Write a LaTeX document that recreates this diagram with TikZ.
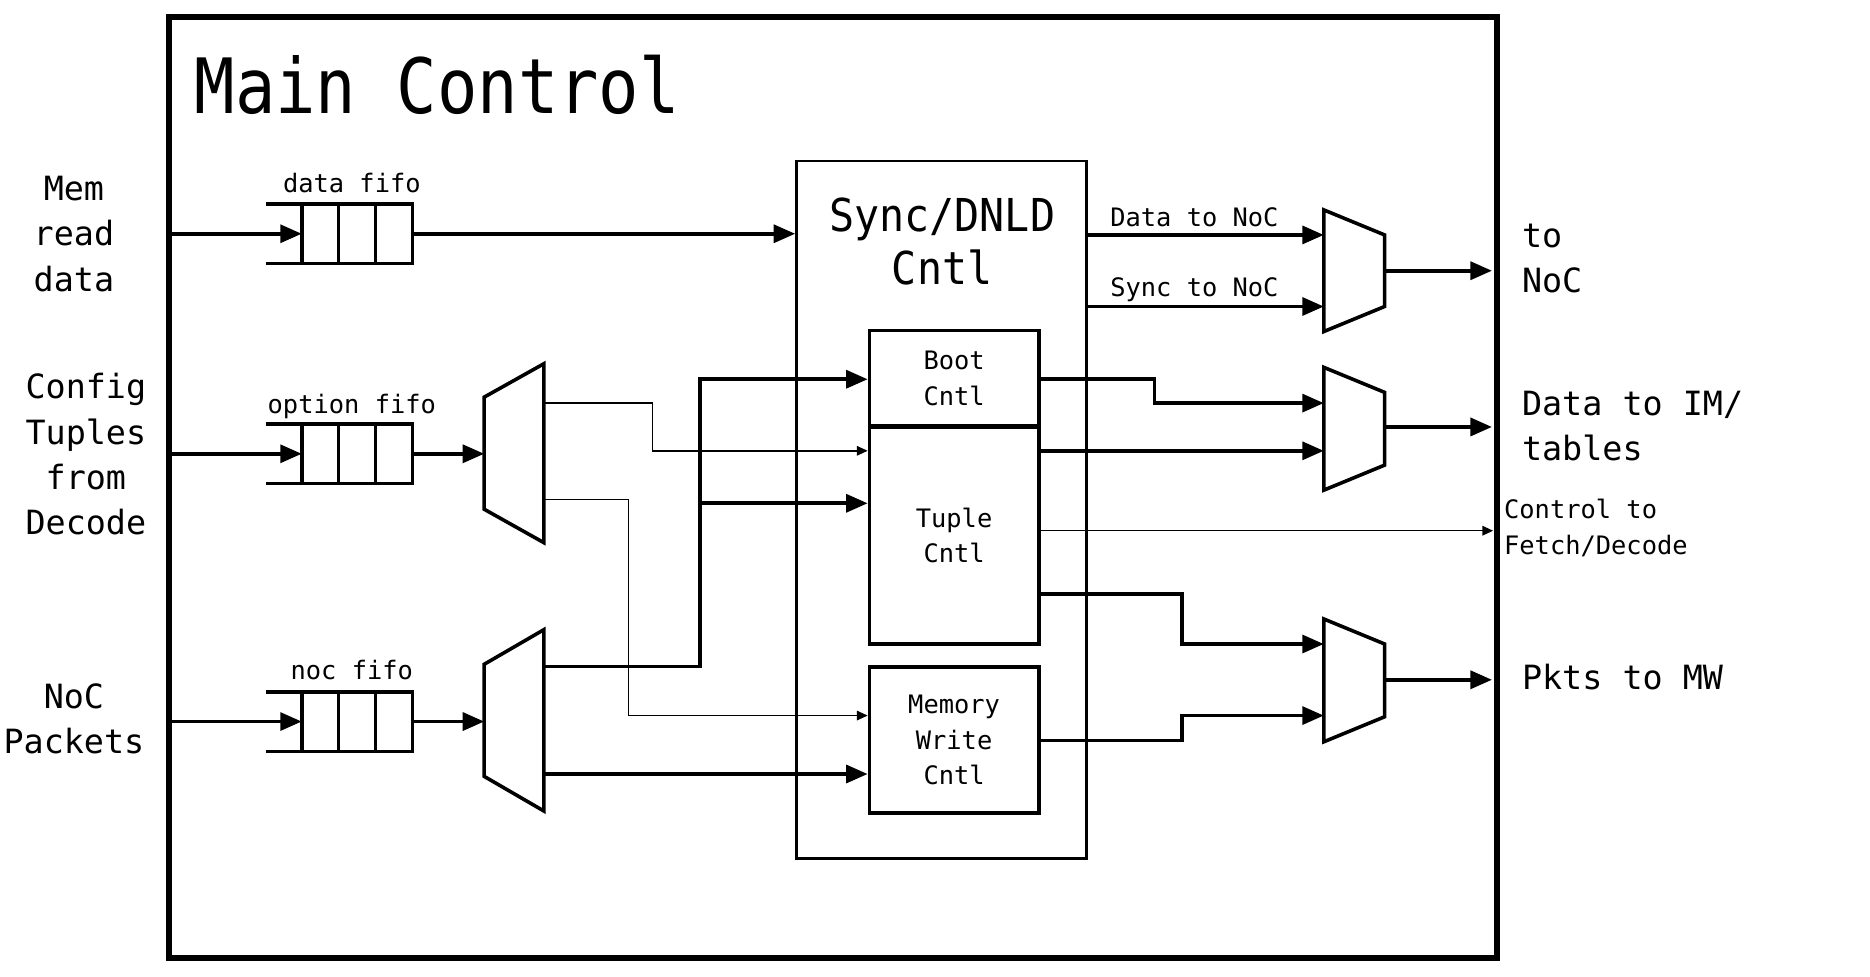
\documentclass[tikz,border=0pt]{standalone}
\usepackage{fontspec}
\newfontfamily\dm{DejaVu Sans Mono}
\newfontfamily\dmmain[FakeStretch=0.88]{DejaVu Sans Mono}
\newfontfamily\dmsync[FakeStretch=0.92]{DejaVu Sans Mono}
\usetikzlibrary{arrows.meta,calc}
\tikzset{
  thk/.style={line width=3pt},
  thn/.style={line width=1.2pt},
  arr/.style={-{Triangle[length=18pt,width=15pt]}},
  tarr/.style={-{Triangle[length=9pt,width=8pt]}},
  smalltxt/.style={font=\dm\fontsize{21.3}{30}\selectfont, inner sep=0pt},
  largetxt/.style={font=\dm\fontsize{28}{38}\selectfont, inner sep=0pt},
  blk/.style={draw, line width=3pt, minimum width=142pt, align=center, smalltxt},
  fifobox/.style={draw, line width=3pt, minimum width=93pt, minimum height=50pt, inner sep=0pt, outer sep=0pt},
  muxline/.style={line width=3pt, line join=miter},
}
\begin{document}
\begin{tikzpicture}[x=1pt,y=-1pt]
\useasboundingbox (0,0) rectangle (1568,819);

% outer box and title
\node[draw, line width=5pt, outer sep=0pt, inner sep=0pt, minimum width=1113pt, minimum height=789pt] (main) at (698.5,408.5) {};
\node[font=\dmmain\fontsize{64}{70}\selectfont, inner sep=0pt, anchor=base west] (title) at (163,95) {Main Control};

% left labels
\node[largetxt, align=center] (memlbl) at (62,196) {Mem\\read\\data};
\node[largetxt, align=center] (cfglbl) at (72,381) {Config\\Tuples\\from\\Decode};
\node[largetxt, align=center] (noclbl) at (62,603) {NoC\\Packets};

% fifos
\node[fifobox] (dfifo) at (299.5,196) {};
\node[fifobox] (ofifo) at (299.5,380.5) {};
\node[fifobox] (nfifo) at (299.5,605) {};
\foreach \f in {dfifo,ofifo,nfifo}{
  \draw[thk] (\f.north west) -- ++(-30,0);
  \draw[thk] (\f.south west) -- ++(-30,0);
  \draw[thk] ($(\f.north west)!1/3!(\f.north east)$) -- ($(\f.south west)!1/3!(\f.south east)$);
  \draw[thk] ($(\f.north west)!2/3!(\f.north east)$) -- ($(\f.south west)!2/3!(\f.south east)$);
}
\node[smalltxt, anchor=base] (dfifolbl) at (295,161.5) {data fifo};
\node[smalltxt, anchor=base] (ofifolbl) at (295,347) {option fifo};
\node[smalltxt, anchor=base] (nfifolbl) at (295,569.5) {noc fifo};

% left muxes
\draw[muxline] (406,333) -- (456,305) -- (456,455) -- (406,427) -- cycle;
\coordinate (m1in) at (406,380.5);
\coordinate (m1o1) at (456,338);
\coordinate (m1o2) at (456,419);
\draw[muxline] (406,557) -- (456,528) -- (456,680) -- (406,651) -- cycle;
\coordinate (m2in) at (406,605);
\coordinate (m2o1) at (456,559);
\coordinate (m2o2) at (456,649);

% Sync/DNLD block
\node[draw, line width=2.5pt, inner sep=0pt, minimum width=243pt, minimum height=585pt] (sync) at (789.5,427.5) {};
\node[font=\dmsync\fontsize{38}{44.5}\selectfont, inner sep=0pt, align=center] (synctitle) at (790,202.5) {Sync/DNLD\\Cntl};
\node[blk, minimum height=80pt] (boot) at (800,317) {Boot\\Cntl};
\node[blk, minimum height=182pt] (tuple) at (800,449) {Tuple\\Cntl};
\node[blk, minimum height=122pt] (memw) at (800,620.5) {Memory\\Write\\Cntl};

% right muxes
\draw[muxline] (1110,176) -- (1161,197) -- (1161,257) -- (1110,278) -- cycle;
\coordinate (m3i1) at (1110,197);
\coordinate (m3i2) at (1110,257);
\coordinate (m3o) at (1161,227);
\draw[muxline] (1110,308) -- (1161,329) -- (1161,390) -- (1110,411) -- cycle;
\coordinate (m4i1) at (1110,338);
\coordinate (m4i2) at (1110,378);
\coordinate (m4o) at (1161,358);
\draw[muxline] (1110,519) -- (1161,540) -- (1161,601) -- (1110,622) -- cycle;
\coordinate (m5i1) at (1110,540);
\coordinate (m5i2) at (1110,600);
\coordinate (m5o) at (1161,570);

% inputs
\draw[thk,arr] (main.west |- dfifo.west) -- (dfifo.west);
\draw[thk,arr] (main.west |- ofifo.west) -- (ofifo.west);
\draw[thk,arr] (main.west |- nfifo.west) -- (nfifo.west);
\draw[thk,arr] (dfifo.east) -- (sync.west |- dfifo.east);
\draw[thk,arr] (ofifo.east) -- (m1in);
\draw[thk,arr] (nfifo.east) -- (m2in);

% mux outputs into blocks
\draw[thn,tarr] (m1o1) -| (547,378) -- (tuple.west |- 0,378);
\draw[thn,tarr] (m1o2) -| (527,600) -- (memw.west |- 0,600);
\coordinate (j1) at (587,422);
\draw[thk,arr] (m2o1) -| (587,318) -- (boot.west |- 0,318);
\draw[thk,arr] (j1) -- (tuple.west |- j1);
\draw[thk,arr] (m2o2) -- (memw.west |- m2o2);

% right side
\draw[thk,arr] (sync.east |- m3i1) -- (m3i1);
\draw[thk,arr] (sync.east |- m3i2) -- (m3i2);
\node[smalltxt, anchor=base] (d2noc) at (1001.5,190) {Data to NoC};
\node[smalltxt, anchor=base] (s2noc) at (1001.5,249) {Sync to NoC};
\draw[thk,arr] (boot.east |- 0,318) -| (968,338) -- (m4i1);
\draw[thk,arr] (tuple.east |- m4i2) -- (m4i2);
\draw[thk,arr] (tuple.east |- 0,498) -| (991,540) -- (m5i1);
\draw[thk,arr] (memw.east |- 0,621) -| (991,600) -- (m5i2);
\draw[thn,tarr,shorten >=3pt] (tuple.east |- 0,445) -- (main.east |- 0,445);
\draw[thk,arr,shorten >=4pt] (m3o) -- (main.east |- m3o);
\draw[thk,arr,shorten >=4pt] (m4o) -- (main.east |- m4o);
\draw[thk,arr,shorten >=4pt] (m5o) -- (main.east |- m5o);

% right labels
\node[largetxt, align=left, anchor=west] (tonoc) at (1276,217) {to\\NoC};
\node[largetxt, align=left, anchor=west] (toim) at (1276,357) {Data to IM/\\tables};
\node[smalltxt, align=left, anchor=west] (tofd) at (1261,443) {Control to\\Fetch/Decode};
\node[largetxt, anchor=base west] (tomw) at (1276,578) {Pkts to MW};
\end{tikzpicture}
\end{document}
